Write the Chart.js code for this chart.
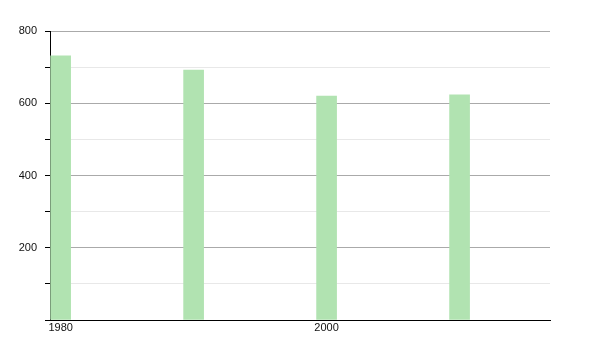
<!DOCTYPE html>
<html>
<head>
<meta charset="utf-8">
<script src="https://cdn.jsdelivr.net/npm/chart.js@4"></script>
<style>
  html, body { margin: 0; padding: 0; background: #fff; }
  #wrap { width: 600px; height: 350px; }
</style>
</head>
<body>
<div id="wrap"><canvas id="chart"></canvas></div>
<script>
// values
var years = [1980, 1990, 2000, 2010];
var population = [731, 692, 620, 623];
var xTicks = [1980, 2000];

var points = [];
for (var i = 0; i < years.length; i++) {
    points.push({ x: years[i], y: population[i] });
}

var ctx = document.getElementById('chart').getContext('2d');
var chart = new Chart(ctx, {
    type: 'bar',
    data: {
        datasets: [{
            data: points,
            backgroundColor: '#b1e3b1',
            borderWidth: 0,
            barThickness: 20
        }]
    },
    options: {
        responsive: true,
        maintainAspectRatio: false,
        animation: false,
        layout: { padding: { top: 31, right: 50, left: 0, bottom: 0 } },
        plugins: {
            legend: { display: false },
            tooltip: { enabled: false }
        },
        scales: {
            x: {
                type: 'linear',
                offset: false,
                min: 1979.2,
                max: 2016.8,
                afterBuildTicks: function (scale) {
                    scale.ticks = xTicks.map(function (v) { return { value: v }; });
                },
                ticks: {
                    color: '#111',
                    font: { family: 'Liberation Sans', size: 11 },
                    padding: 1,
                    maxRotation: 0,
                    callback: function (v) { return String(v); }
                },
                grid: { display: false, drawTicks: false },
                border: { display: true, color: '#000', width: 1 },
                afterFit: function (scale) { scale.height = 30; }
            },
            y: {
                min: 0,
                max: 800,
                ticks: {
                    stepSize: 100,
                    color: '#111',
                    font: { family: 'Liberation Sans', size: 11 },
                    padding: 8,
                    callback: function (v) {
                        return (v % 200 === 0 && v !== 0) ? String(v) : '';
                    }
                },
                grid: {
                    color: function (c) {
                        if (c.tick && c.tick.value === 0) return 'rgba(0,0,0,0)';
                        return c.tick && c.tick.value % 200 === 0 ? '#aaaaaa' : '#e8e8e8';
                    },
                    tickColor: '#000',
                    tickLength: 5,
                    lineWidth: 1
                },
                border: { display: true, color: '#000', width: 1 },
                afterFit: function (scale) { scale.width = 50; }
            }
        }
    }
});
</script>
</body>
</html>
